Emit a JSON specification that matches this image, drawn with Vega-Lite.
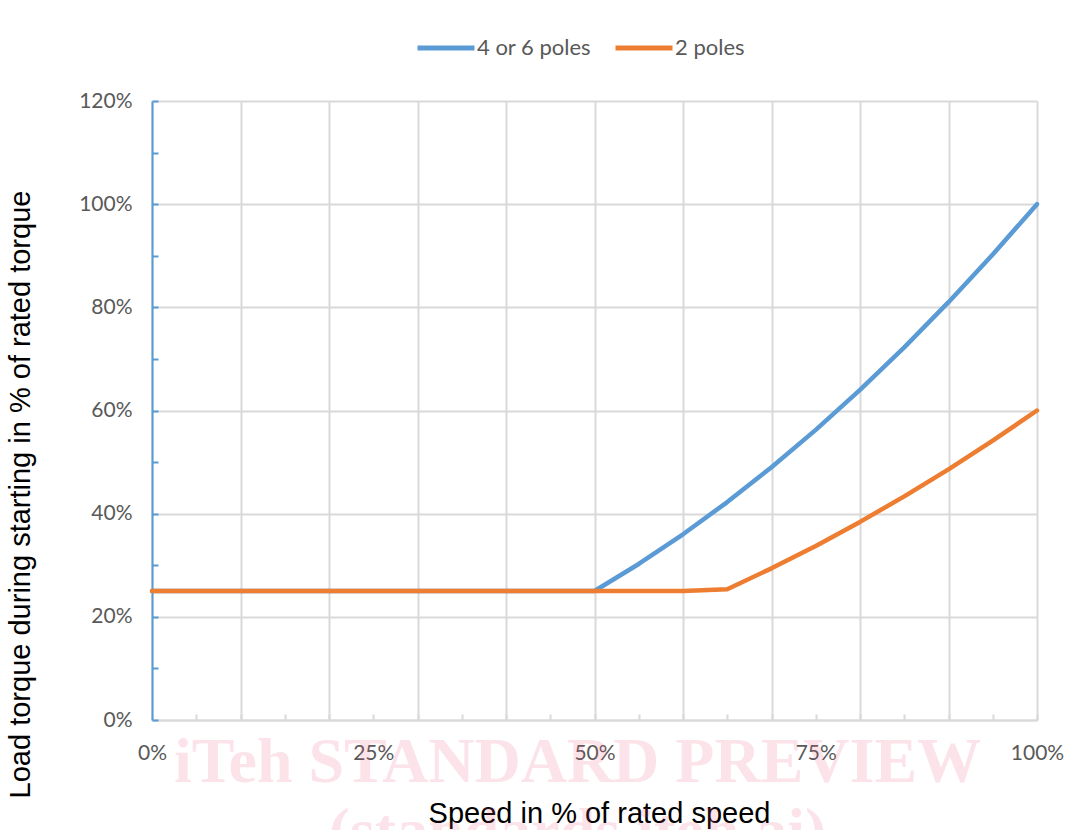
{
  "$schema": "https://vega.github.io/schema/vega-lite/v6.json",
  "width": 885,
  "height": 619,
  "autosize": {"type": "none"},
  "padding": {"left": 152, "top": 101, "right": 46, "bottom": 110},
  "background": "white",
  "config": {"view": {"stroke": null}},
  "title": {
    "text": "iTeh STANDARD PREVIEW",
    "subtitle": "(standards.iteh.ai)",
    "orient": "bottom",
    "anchor": "middle",
    "offset": -97,
    "dx": -17,
    "font": "Liberation Serif",
    "fontWeight": "bold",
    "fontSize": 64,
    "color": "rgba(230,80,120,0.16)",
    "subtitleFont": "Liberation Serif",
    "subtitleFontWeight": "bold",
    "subtitleFontSize": 64,
    "subtitleColor": "rgba(230,80,120,0.16)",
    "subtitlePadding": 6
  },
  "data": {
    "values": [
      {"speed": 0.0, "torque": 0.25, "series": "4 or 6 poles"},
      {"speed": 0.05, "torque": 0.25, "series": "4 or 6 poles"},
      {"speed": 0.1, "torque": 0.25, "series": "4 or 6 poles"},
      {"speed": 0.15, "torque": 0.25, "series": "4 or 6 poles"},
      {"speed": 0.2, "torque": 0.25, "series": "4 or 6 poles"},
      {"speed": 0.25, "torque": 0.25, "series": "4 or 6 poles"},
      {"speed": 0.3, "torque": 0.25, "series": "4 or 6 poles"},
      {"speed": 0.35, "torque": 0.25, "series": "4 or 6 poles"},
      {"speed": 0.4, "torque": 0.25, "series": "4 or 6 poles"},
      {"speed": 0.45, "torque": 0.25, "series": "4 or 6 poles"},
      {"speed": 0.5, "torque": 0.25, "series": "4 or 6 poles"},
      {"speed": 0.55, "torque": 0.3025, "series": "4 or 6 poles"},
      {"speed": 0.6, "torque": 0.36, "series": "4 or 6 poles"},
      {"speed": 0.65, "torque": 0.4225, "series": "4 or 6 poles"},
      {"speed": 0.7, "torque": 0.49, "series": "4 or 6 poles"},
      {"speed": 0.75, "torque": 0.5625, "series": "4 or 6 poles"},
      {"speed": 0.8, "torque": 0.64, "series": "4 or 6 poles"},
      {"speed": 0.85, "torque": 0.7225, "series": "4 or 6 poles"},
      {"speed": 0.9, "torque": 0.81, "series": "4 or 6 poles"},
      {"speed": 0.95, "torque": 0.9025, "series": "4 or 6 poles"},
      {"speed": 1.0, "torque": 1.0, "series": "4 or 6 poles"},
      {"speed": 0.0, "torque": 0.25, "series": "2 poles"},
      {"speed": 0.05, "torque": 0.25, "series": "2 poles"},
      {"speed": 0.1, "torque": 0.25, "series": "2 poles"},
      {"speed": 0.15, "torque": 0.25, "series": "2 poles"},
      {"speed": 0.2, "torque": 0.25, "series": "2 poles"},
      {"speed": 0.25, "torque": 0.25, "series": "2 poles"},
      {"speed": 0.3, "torque": 0.25, "series": "2 poles"},
      {"speed": 0.35, "torque": 0.25, "series": "2 poles"},
      {"speed": 0.4, "torque": 0.25, "series": "2 poles"},
      {"speed": 0.45, "torque": 0.25, "series": "2 poles"},
      {"speed": 0.5, "torque": 0.25, "series": "2 poles"},
      {"speed": 0.55, "torque": 0.25, "series": "2 poles"},
      {"speed": 0.6, "torque": 0.25, "series": "2 poles"},
      {"speed": 0.65, "torque": 0.2535, "series": "2 poles"},
      {"speed": 0.7, "torque": 0.294, "series": "2 poles"},
      {"speed": 0.75, "torque": 0.3375, "series": "2 poles"},
      {"speed": 0.8, "torque": 0.384, "series": "2 poles"},
      {"speed": 0.85, "torque": 0.4335, "series": "2 poles"},
      {"speed": 0.9, "torque": 0.486, "series": "2 poles"},
      {"speed": 0.95, "torque": 0.5415, "series": "2 poles"},
      {"speed": 1.0, "torque": 0.6, "series": "2 poles"}
    ]
  },
  "resolve": {"axis": {"x": "independent", "y": "independent"}},
  "layer": [
    {
      "mark": {"type": "line", "strokeOpacity": 0},
      "encoding": {
        "x": {
          "field": "speed", "type": "quantitative",
          "scale": {"domain": [0, 1], "nice": false, "zero": true},
          "axis": {"orient": "bottom", "values": [0, 0.1, 0.2, 0.3, 0.4, 0.5, 0.6, 0.7, 0.8, 0.9, 1.0],
                   "grid": true, "gridColor": "#d9d9d9", "gridWidth": 2, "labels": false, "ticks": false, "domain": false, "title": null}
        },
        "y": {
          "field": "torque", "type": "quantitative",
          "scale": {"domain": [0, 1.2], "nice": false},
          "axis": {"orient": "left", "values": [0, 0.2, 0.4, 0.6, 0.8, 1.0, 1.2],
                   "grid": true, "gridColor": "#d9d9d9", "gridWidth": 2, "labels": false, "ticks": false, "domain": false, "title": null}
        },
        "detail": {"field": "series"}
      }
    },
    {
      "mark": {"type": "line", "strokeOpacity": 0},
      "encoding": {
        "x": {
          "field": "speed", "type": "quantitative",
          "axis": {"orient": "bottom", "values": [0, 0.05, 0.1, 0.15, 0.2, 0.25, 0.3, 0.35, 0.4, 0.45, 0.5, 0.55, 0.6, 0.65, 0.7, 0.75, 0.8, 0.85, 0.9, 0.95, 1.0],
                   "grid": false, "labels": false, "ticks": true, "tickSize": -6, "tickColor": "#d9d9d9", "tickWidth": 2, "domain": false, "title": null}
        },
        "y": {
          "field": "torque", "type": "quantitative",
          "axis": {"orient": "left", "values": [0, 0.1, 0.2, 0.3, 0.4, 0.5, 0.6, 0.7, 0.8, 0.9, 1.0, 1.1, 1.2],
                   "grid": false, "labels": false, "ticks": true, "tickSize": -6, "tickColor": "#5b9bd5", "tickWidth": 2, "domain": false, "title": null}
        },
        "detail": {"field": "series"}
      }
    },
    {
      "mark": {"type": "line", "strokeWidth": 4.5, "strokeCap": "round", "strokeJoin": "round"},
      "encoding": {
        "x": {
          "field": "speed", "type": "quantitative",
          "axis": {"orient": "bottom", "values": [0, 0.25, 0.5, 0.75, 1.0], "format": ".0%",
                   "grid": false, "ticks": false, "domain": true, "domainColor": "#d9d9d9", "domainWidth": 2,
                   "labelFlush": false, "labelOverlap": false,
                   "labelFont": "Lato", "labelFontSize": 21, "labelColor": "#595959", "labelPadding": 22,
                   "title": "Speed in % of rated speed", "titleFont": "Liberation Sans", "titleFontSize": 29,
                   "titleFontWeight": "normal", "titleColor": "#000000", "titleX": 447, "titleY": 102,
                   "titleAlign": "center", "titleBaseline": "alphabetic"}
        },
        "y": {
          "field": "torque", "type": "quantitative",
          "axis": {"orient": "left", "values": [0, 0.2, 0.4, 0.6, 0.8, 1.0, 1.2], "format": ".0%",
                   "grid": false, "ticks": false, "domain": true, "domainColor": "#5b9bd5", "domainWidth": 2,
                   "labelFlush": false, "labelOverlap": false,
                   "labelFont": "Lato", "labelFontSize": 21, "labelColor": "#595959", "labelPadding": 20,
                   "title": "Load torque during starting in % of rated torque", "titleFont": "Liberation Sans", "titleFontSize": 29,
                   "titleFontWeight": "normal", "titleColor": "#000000", "titleX": -123, "titleY": 393,
                   "titleAngle": -90, "titleAlign": "center", "titleBaseline": "alphabetic"}
        },
        "color": {
          "field": "series", "type": "nominal",
          "scale": {"domain": ["4 or 6 poles", "2 poles"], "range": ["#5b9bd5", "#ed7d31"]},
          "sort": null,
          "legend": {"title": null, "orient": "none", "legendX": 263, "legendY": -84, "direction": "horizontal",
                     "symbolType": "stroke", "symbolSize": 3249, "symbolStrokeWidth": 5,
                     "labelFont": "Lato", "labelFontSize": 22, "labelColor": "#595959", "labelOffset": 0,
                     "columnPadding": 13}
        }
      }
    }
  ]
}
